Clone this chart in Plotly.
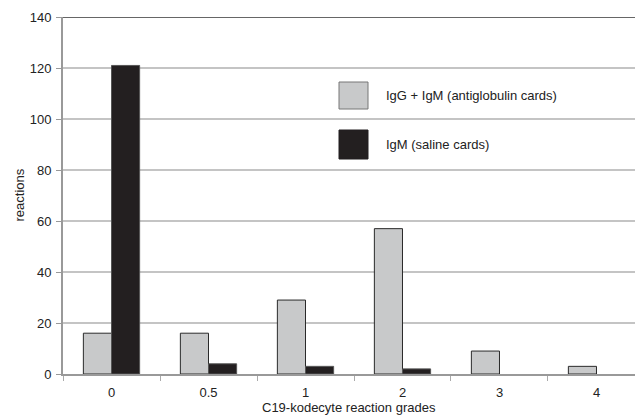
import plotly.graph_objects as go

categories = ["0", "0.5", "1", "2", "3", "4"]
igg_igm = [16, 16, 29, 57, 9, 3]
igm = [121, 4, 3, 2, 0, 0]
y_ticks = [0, 20, 40, 60, 80, 100, 120, 140]
series_names = ["IgG + IgM (antiglobulin cards)", "IgM (saline cards)"]
x_title = "C19-kodecyte reaction grades"
y_title = "reactions"

grey = "#c8c9ca"
black = "#231f20"
font = "Liberation Sans, Arial, sans-serif"
FS = 13

L, T, B, W, H = 63, 17, 42, 635, 416
PW, PH = W - L, H - T - B

fig = go.Figure()
fig.add_trace(go.Bar(x=categories, y=igg_igm, name=series_names[0],
                     marker=dict(color=grey,
                                 line=dict(color="#2a2a2a",
                                           width=[1 if v > 0 else 0 for v in igg_igm]))))
fig.add_trace(go.Bar(x=categories, y=igm, name=series_names[1],
                     marker=dict(color=black,
                                 line=dict(color="#555555",
                                           width=[1 if v > 0 else 0 for v in igm]))))

fig.update_layout(
    width=W, height=H,
    margin=dict(l=L, r=0, t=T, b=B),
    paper_bgcolor="white", plot_bgcolor="white",
    barmode="group", bargap=0.42, bargroupgap=0,
    showlegend=False,
    font=dict(family=font, size=FS, color="#222"),
)
fig.update_xaxes(
    type="category", range=[-0.5, 5.397], automargin=False,
    showline=True, linecolor="#999999", linewidth=2,
    ticks="outside", tickson="boundaries", ticklen=5, tickcolor="#aaaaaa", tickwidth=1,
    showgrid=False, ticklabelstandoff=5,
)
fig.update_yaxes(
    range=[0, 140], tickvals=y_ticks, automargin=False,
    showline=True, linecolor="#999999", linewidth=2,
    ticks="outside", ticklen=5, tickcolor="#999999",
    showgrid=True, gridcolor="#c4c4c4", gridwidth=1.5,
    zeroline=False, ticklabelstandoff=2,
)
# axis titles
fig.add_annotation(xref="paper", yref="paper", x=0.5, y=-(407 - 374) / PH,
                   text=x_title, showarrow=False, xanchor="center", yanchor="middle",
                   font=dict(size=FS, color="#222"))
fig.add_annotation(xref="paper", yref="paper", x=-(L - 19) / PW, y=0.5,
                   text=y_title, showarrow=False, textangle=-90,
                   xanchor="center", yanchor="middle",
                   font=dict(size=FS, color="#222"))
# top frame line at 140
fig.add_shape(type="line", xref="paper", yref="y", x0=0, x1=1, y0=140, y1=140,
              line=dict(color="#333333", width=1.5))

# custom legend
legend_items = [(series_names[0], grey, "#777777", 82, 109),
                (series_names[1], black, black, 130, 159)]
for name, fc, lc, ytop, ybot in legend_items:
    fig.add_shape(type="rect", xref="paper", yref="paper",
                  x0=(339 - L) / PW, x1=(368 - L) / PW,
                  y0=(H - B - ybot) / PH, y1=(H - B - ytop) / PH,
                  fillcolor=fc, line=dict(color=lc, width=1))
    fig.add_annotation(xref="paper", yref="paper", x=(384 - L) / PW,
                       y=(H - B - (ytop + ybot) / 2) / PH, text=name,
                       showarrow=False, xanchor="left", yanchor="middle",
                       font=dict(size=FS, color="#222"))

fig.write_html("out.html", config={"displayModeBar": False},
               post_script="document.body.style.margin='0';document.body.style.overflow='hidden';")
